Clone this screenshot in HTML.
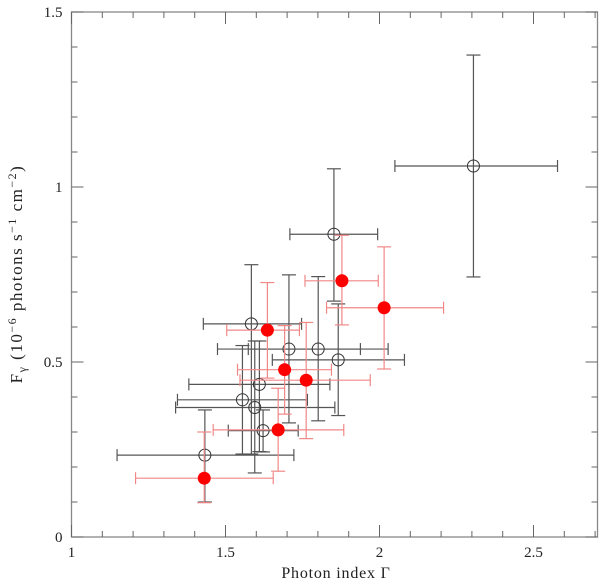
<!DOCTYPE html>
<html><head><meta charset="utf-8"><style>
body{margin:0;background:#fff;}
svg text{font-family:"Liberation Serif",serif;fill:#222;}
</style></head><body>
<svg id="chart" width="600" height="582" xmlns="http://www.w3.org/2000/svg">
<g id="axes"></g>
<g id="marks"></g>
<text x="336" y="578" text-anchor="middle" font-size="16" letter-spacing="0.8">Photon index Γ</text>
<text transform="translate(22,274) rotate(-90)" text-anchor="middle" font-size="17" letter-spacing="1.5">F<tspan font-size="12" dy="4">γ</tspan><tspan dy="-4"> (10</tspan><tspan font-size="12" dy="-6">−6</tspan><tspan dy="6"> photons s</tspan><tspan font-size="12" dy="-6">−1</tspan><tspan dy="6"> cm</tspan><tspan font-size="12" dy="-6">−2</tspan><tspan dy="6">)</tspan></text>
</svg>
<script>
// Open (black) series: x, y, xlo, xhi, ylo, yhi
const openX  =[2.305,1.852,1.584,1.706,1.801,1.866,1.610,1.555,1.595,1.622,1.433];
const openY  =[1.060,0.865,0.609,0.537,0.537,0.506,0.436,0.392,0.370,0.304,0.234];
const openXlo=[2.050,1.709,1.428,1.474,1.574,1.652,1.381,1.344,1.338,1.509,1.148];
const openXhi=[2.578,1.994,1.747,1.938,2.028,2.081,1.839,1.766,1.855,1.736,1.722];
const openYlo=[0.743,0.674,0.237,0.326,0.332,0.347,0.244,0.237,0.183,0.243,0.100];
const openYhi=[1.377,1.052,0.778,0.749,0.744,0.666,0.560,0.547,0.560,0.363,0.363];
// Filled (red) series
const redX  =[1.878,2.015,1.636,1.692,1.762,1.671,1.431];
const redY  =[0.732,0.655,0.591,0.478,0.448,0.306,0.168];
const redXlo=[1.758,1.828,1.504,1.539,1.547,1.460,1.208];
const redXhi=[1.996,2.208,1.740,1.844,1.970,1.884,1.655];
const redYlo=[0.606,0.480,0.454,0.351,0.281,0.188,0.098];
const redYhi=[0.862,0.829,0.727,0.604,0.613,0.425,0.300];
const xTicks=[1,1.5,2,2.5];
const xTickLabels=["1","1.5","2","2.5"];
const yTicks=[0,0.5,1,1.5];
const yTickLabels=["0","0.5","1","1.5"];

const L=71.5,R=597.5,T=12,B=537,X0=1,X1=1+(R-L)/308,Y0=0,Y1=1.5;
const sx=v=>L+(v-X0)/(X1-X0)*(R-L);
const sy=v=>B-(v-Y0)/(Y1-Y0)*(B-T);
const NS="http://www.w3.org/2000/svg";
function mk(tag,attrs,parent){const e=document.createElementNS(NS,tag);for(const k in attrs)e.setAttribute(k,attrs[k]);parent.appendChild(e);return e;}
const ax=document.getElementById('axes'),mg=document.getElementById('marks');
const frame=mk('rect',{x:L,y:T,width:R-L,height:B-T,fill:'none',stroke:'#888','stroke-width':1.3},ax);


const tk={stroke:'#666','stroke-width':1};
for(let v=1;v<=X1+1e-9;v+=0.1){const major=Math.abs(v*2-Math.round(v*2))<1e-6;const len=major?12:6;const x=sx(v);
 const t1=mk('line',Object.assign({x1:x,x2:x,y1:B,y2:B-len},tk),ax);
 
 
 const t2=mk('line',Object.assign({x1:x,x2:x,y1:T,y2:T+len},tk),ax);
 
 }
for(let v=0;v<=1.5+1e-9;v+=0.1){const major=Math.abs(v*2-Math.round(v*2))<1e-6;const len=major?12:6;const y=sy(v);
 const t1=mk('line',Object.assign({x1:L,x2:L+len,y1:y,y2:y},tk),ax);
 
 
 const t2=mk('line',Object.assign({x1:R,x2:R-len,y1:y,y2:y},tk),ax);
 
 }
xTicks.forEach((v,i)=>{const t=mk('text',{x:sx(v),y:557,'text-anchor':'middle','font-size':15},ax);t.textContent=xTickLabels[i];
 
 });
yTicks.forEach((v,i)=>{const t=mk('text',{x:L-9,y:sy(v)+5,'text-anchor':'end','font-size':15},ax);t.textContent=yTickLabels[i];
 
 });
function point(x,y,xl,xh,yl,yh,col,filled,name){
 const g=mk('g',{},mg);
 
 
 const st={stroke:col,'stroke-width':1.2,fill:'none'};
 mk('line',Object.assign({x1:sx(xl),x2:sx(xh),y1:sy(y),y2:sy(y)},st),g);
 mk('line',Object.assign({x1:sx(x),x2:sx(x),y1:sy(yl),y2:sy(yh)},st),g);
 mk('line',Object.assign({x1:sx(xl),x2:sx(xl),y1:sy(y)-6,y2:sy(y)+6},st),g);
 mk('line',Object.assign({x1:sx(xh),x2:sx(xh),y1:sy(y)-6,y2:sy(y)+6},st),g);
 mk('line',Object.assign({x1:sx(x)-7,x2:sx(x)+7,y1:sy(yl),y2:sy(yl)},st),g);
 mk('line',Object.assign({x1:sx(x)-7,x2:sx(x)+7,y1:sy(yh),y2:sy(yh)},st),g);
 if(filled) mk('circle',{cx:sx(x),cy:sy(y),r:6.5,fill:'#f00'},g);
 else mk('circle',{cx:sx(x),cy:sy(y),r:6,fill:'none',stroke:'#333','stroke-width':1},g);
}
openX.forEach((x,i)=>point(x,openY[i],openXlo[i],openXhi[i],openYlo[i],openYhi[i],'#555',false,'open-point'));
redX.forEach((x,i)=>point(x,redY[i],redXlo[i],redXhi[i],redYlo[i],redYhi[i],'#f08888',true,'red-point'));
</script>
</body></html>
